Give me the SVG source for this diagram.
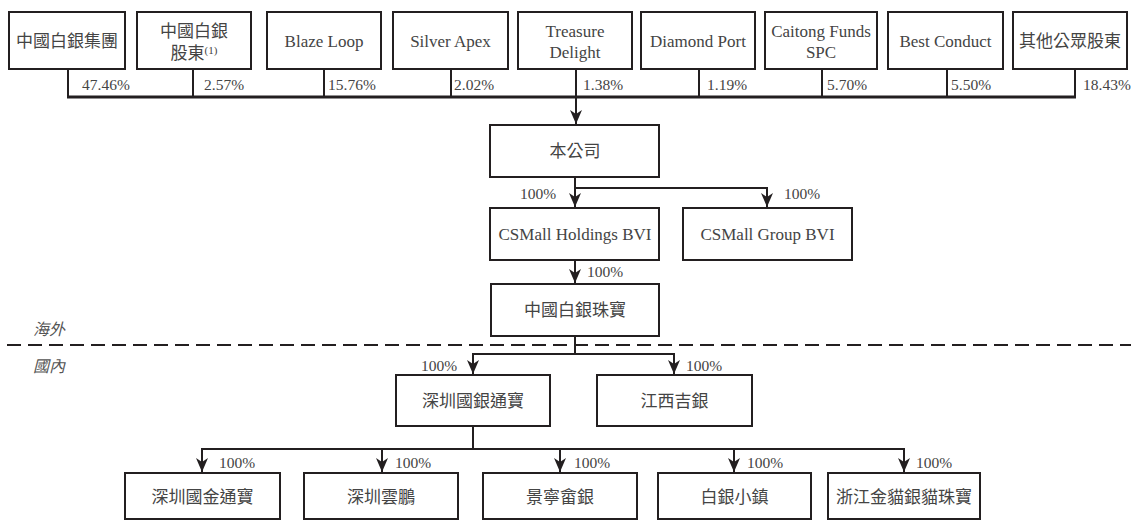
<svg xmlns="http://www.w3.org/2000/svg" width="1131" height="520" viewBox="0 0 1131 520">
<defs>
<marker id="arr" markerUnits="userSpaceOnUse" markerWidth="15" markerHeight="13" viewBox="0 0 15 13" refX="14" refY="6.5" orient="auto">
<path d="M0,0.5 L14,6.5 L0,12.5 L4,6.5 Z" fill="#231f20"/>
</marker>
</defs>
<style>
.box{fill:#fff;stroke:#231f20;stroke-width:2}
.t{font-family:"Liberation Serif","Noto Sans CJK TC",serif;font-size:17px;fill:#444;text-anchor:middle}
.p{font-family:"Liberation Serif",serif;font-size:15.5px;fill:#444}
.ln{fill:none;stroke:#231f20;stroke-width:2}
.bus{fill:none;stroke:#231f20;stroke-width:3}
.ar{marker-end:url(#arr)}
.it{font-family:"Noto Sans CJK TC",sans-serif;font-size:16px;font-style:italic;fill:#555}
.dash{fill:none;stroke:#231f20;stroke-width:2;stroke-dasharray:14 7}
</style>
<rect width="1131" height="520" fill="#fff"/>

<g id="connectors">
<path class="ln" d="M68,69 V97 M193,69 V97 M324,69 V97 M451,69 V97 M576,69 V97 M699,69 V97 M822,69 V97 M947,69 V97 M1075,69 V97"/>
<path class="bus" d="M67,97 H1076"/>
<path class="ln ar" d="M576,97 V124"/>
<path class="ln ar" d="M575,177 V207"/>
<path class="ln ar" d="M575,188 H767 V207"/>
<path class="ln ar" d="M575,260 V283"/>
<path class="ln" d="M575,336 V354"/>
<path class="ln ar" d="M575,354 H473 V374"/>
<path class="ln ar" d="M575,354 H674 V374"/>
<path class="ln ar" d="M473,426 V449 H202 V472"/>
<path class="ln ar" d="M382,449 V472"/>
<path class="ln ar" d="M560,449 V472"/>
<path class="ln ar" d="M473,449 H734 V472"/>
<path class="ln ar" d="M734,449 H904 V472"/>
</g>

<g id="labels">
<text class="p" x="82" y="90">47.46%</text>
<text class="p" x="204" y="90">2.57%</text>
<text class="p" x="328" y="90">15.76%</text>
<text class="p" x="454" y="90">2.02%</text>
<text class="p" x="583" y="90">1.38%</text>
<text class="p" x="707" y="90">1.19%</text>
<text class="p" x="827" y="90">5.70%</text>
<text class="p" x="951" y="90">5.50%</text>
<text class="p" x="1083" y="90">18.43%</text>
<text class="p" x="520" y="199">100%</text>
<text class="p" x="784" y="199">100%</text>
<text class="p" x="587" y="277">100%</text>
<text class="p" x="421" y="371">100%</text>
<text class="p" x="686" y="371">100%</text>
<text class="p" x="219" y="468">100%</text>
<text class="p" x="395" y="468">100%</text>
<text class="p" x="574" y="468">100%</text>
<text class="p" x="747" y="468">100%</text>
<text class="p" x="916" y="468">100%</text>
</g>

<g id="region-divider">
<path class="dash" d="M7,345 H1131"/>
<text class="it" x="33" y="335">海外</text>
<text class="it" x="33" y="372">國內</text>
</g>

<g id="n1"><rect class="box" x="9" y="12" width="116" height="57"/><text class="t" x="67" y="47">中國白銀集團</text></g>
<g id="n2"><rect class="box" x="137" y="12" width="114" height="57"/><text class="t" x="194" y="37">中國白銀</text><text class="t" x="194" y="59">股東<tspan font-size="11" dy="-5">(1)</tspan></text></g>
<g id="n3"><rect class="box" x="267" y="12" width="114" height="57"/><text class="t" x="324" y="47">Blaze Loop</text></g>
<g id="n4"><rect class="box" x="393" y="12" width="115" height="57"/><text class="t" x="450.5" y="47">Silver Apex</text></g>
<g id="n5"><rect class="box" x="518" y="12" width="114" height="57"/><text class="t" x="575" y="37">Treasure</text><text class="t" x="575" y="58">Delight</text></g>
<g id="n6"><rect class="box" x="641" y="12" width="114" height="57"/><text class="t" x="698" y="47">Diamond Port</text></g>
<g id="n7"><rect class="box" x="765" y="12" width="112" height="57"/><text class="t" x="821" y="37">Caitong Funds</text><text class="t" x="821" y="58">SPC</text></g>
<g id="n8"><rect class="box" x="888" y="12" width="115" height="57"/><text class="t" x="945.5" y="47">Best Conduct</text></g>
<g id="n9"><rect class="box" x="1013" y="12" width="114" height="57"/><text class="t" x="1070" y="47">其他公眾股東</text></g>

<g id="company"><rect class="box" x="490" y="125" width="169" height="52"/><text class="t" x="575" y="157">本公司</text></g>
<g id="holdings"><rect class="box" x="490" y="208" width="169" height="52"/><text class="t" x="575" y="240">CSMall Holdings BVI</text></g>
<g id="group"><rect class="box" x="683" y="208" width="169" height="52"/><text class="t" x="767.5" y="240">CSMall Group BVI</text></g>
<g id="jewelry"><rect class="box" x="491" y="284" width="168" height="52"/><text class="t" x="575" y="316">中國白銀珠寶</text></g>
<g id="szgytb"><rect class="box" x="396" y="375" width="154" height="51"/><text class="t" x="473" y="407">深圳國銀通寶</text></g>
<g id="jxjy"><rect class="box" x="597" y="375" width="155" height="51"/><text class="t" x="674.5" y="407">江西吉銀</text></g>
<g id="b1"><rect class="box" x="125" y="473" width="155" height="46"/><text class="t" x="202.5" y="503">深圳國金通寶</text></g>
<g id="b2"><rect class="box" x="304" y="473" width="154" height="46"/><text class="t" x="381" y="503">深圳雲鵬</text></g>
<g id="b3"><rect class="box" x="483" y="473" width="154" height="46"/><text class="t" x="560" y="503">景寧畲銀</text></g>
<g id="b4"><rect class="box" x="658" y="473" width="153" height="46"/><text class="t" x="734.5" y="503">白銀小鎮</text></g>
<g id="b5"><rect class="box" x="828" y="473" width="152" height="46"/><text class="t" x="904" y="503">浙江金貓銀貓珠寶</text></g>
</svg>
